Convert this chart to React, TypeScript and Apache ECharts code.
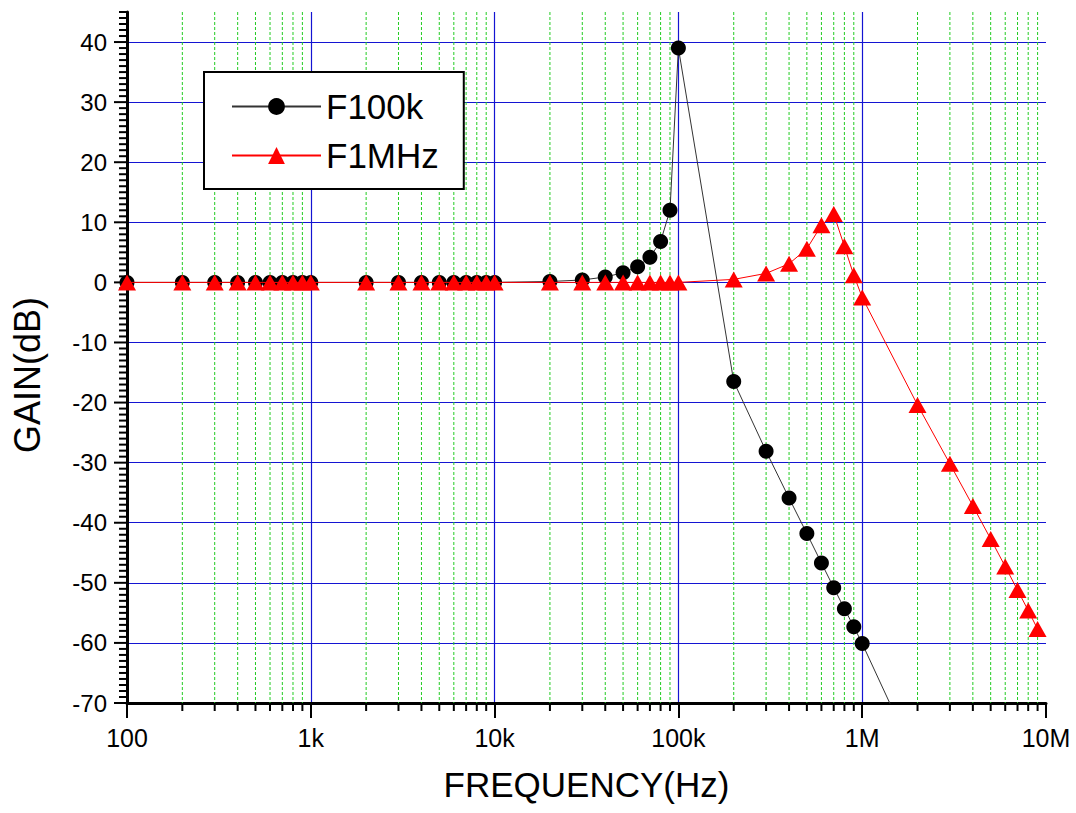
import React, { useEffect, useRef } from "react";
import * as echarts from "echarts";

const FONT = "'Liberation Sans', Arial, sans-serif";

// Frequencies (Hz) and gains (dB)
const freqsF100k = [
  100, 200, 300, 400, 500, 600, 700, 800, 900, 1000,
  2000, 3000, 4000, 5000, 6000, 7000, 8000, 9000, 10000,
  20000, 30000, 40000, 50000, 60000, 70000, 80000, 90000, 100000,
  200000, 300000, 400000, 500000, 600000, 700000, 800000, 900000, 1000000,
  2000000,
];
const gainF100k = [
  0, 0, 0, 0, 0, 0, 0, 0, 0, 0,
  0, 0, 0, 0, 0, 0, 0, 0, 0,
  0.15, 0.4, 0.9, 1.6, 2.6, 4.2, 6.8, 12, 39,
  -16.5, -28.1, -35.9, -41.8, -46.7, -50.8, -54.3, -57.3, -60.1,
  -80,
];

const freqsF1MHz = [
  100, 200, 300, 400, 500, 600, 700, 800, 900, 1000,
  2000, 3000, 4000, 5000, 6000, 7000, 8000, 9000, 10000,
  20000, 30000, 40000, 50000, 60000, 70000, 80000, 90000, 100000,
  200000, 300000, 400000, 500000, 600000, 700000, 800000, 900000, 1000000,
  2000000, 3000000, 4000000, 5000000, 6000000, 7000000, 8000000, 9000000,
];
const gainF1MHz = [
  0, 0, 0, 0, 0, 0, 0, 0, 0, 0,
  0, 0, 0, 0, 0, 0, 0, 0, 0,
  0, 0, 0, 0, 0, 0, 0, 0, 0,
  0.5, 1.5, 3.1, 5.6, 9.5, 11.4, 6.0, 1.2, -2.5,
  -20.4, -30.2, -37.2, -42.7, -47.3, -51.2, -54.6, -57.7,
];

const X_MIN = 100;
const X_MAX = 10000000;
const Y_MIN = -70;
const Y_MAX = 45;

// minor log positions (2..9 x decade)
const minorFreqs: number[] = [];
for (let d = 100; d < X_MAX; d *= 10) {
  for (let m = 2; m <= 9; m++) minorFreqs.push(m * d);
}
// y tick positions every 1 dB
const yTickValues: number[] = [];
for (let v = Y_MIN; v <= Y_MAX; v++) yTickValues.push(v);

function fmtFreq(v: number): string {
  const r = Math.round(v);
  if (r >= 1e6) return Math.round(r / 1e6) + "M";
  if (r >= 1e3) return Math.round(r / 1e3) + "k";
  return String(r);
}

export default function App() {
  const ref = useRef<HTMLDivElement>(null);

  useEffect(() => {
    if (!ref.current) return;
    const chart = echarts.init(ref.current, undefined, { renderer: "svg" });
    const option: any = {
      animation: false,
      textStyle: { fontFamily: FONT },
      grid: { left: 127, right: 30, top: 12, bottom: 110, containLabel: false },
      legend: {
        data: ["F100k", "F1MHz"],
        orient: "vertical",
        left: 204,
        top: 72,
        itemWidth: 89,
        itemHeight: 21,
        itemGap: 14,
        padding: [17, 25, 16, 27],
        backgroundColor: "#ffffff",
        borderColor: "#000000",
        borderWidth: 2,
        borderRadius: 0,
        textStyle: { fontSize: 35, color: "#000", fontFamily: FONT },
      },
      xAxis: {
        type: "log",
        logBase: 10,
        min: X_MIN,
        max: X_MAX,
        name: "FREQUENCY(Hz)",
        nameLocation: "middle",
        nameGap: 64,
        nameTextStyle: { fontSize: 35, color: "#000", fontFamily: FONT },
        axisLine: { show: true, onZero: false, lineStyle: { color: "#000", width: 3 } },
        axisTick: { show: true, length: 15, lineStyle: { color: "#000", width: 2 } },
        axisLabel: { fontSize: 25, color: "#000", margin: 22, formatter: fmtFreq, fontFamily: FONT },
        splitLine: {
          show: true,
          showMinLine: false,
          showMaxLine: false,
          lineStyle: { color: "#1414d2", width: 1.2 },
        },
      },
      yAxis: {
        type: "value",
        min: Y_MIN,
        max: Y_MAX,
        interval: 10,
        axisLine: { show: true, lineStyle: { color: "#000", width: 3 } },
        axisTick: { show: false },
        axisLabel: { fontSize: 24, color: "#000", margin: 20, showMaxLabel: false, fontFamily: FONT },
        splitLine: {
          show: true,
          showMinLine: false,
          showMaxLine: false,
          lineStyle: { color: "#1414d2", width: 1.2 },
        },
      },
      graphic: [
        {
          type: "text",
          x: 27,
          y: 375,
          rotation: Math.PI / 2,
          style: {
            text: "GAIN(dB)",
            fontSize: 36,
            fill: "#000",
            align: "center",
            verticalAlign: "middle",
            fontFamily: FONT,
          },
        },
      ],
      series: [
        {
          name: "minorGrid",
          type: "custom",
          silent: true,
          clip: false,
          z: 1,
          data: minorFreqs.map((f) => [f, 0]),
          encode: { x: 0, y: 1 },
          renderItem: (params: any, api: any) => {
            const f = api.value(0);
            const top = api.coord([f, Y_MAX]);
            const bot = api.coord([f, Y_MIN]);
            return {
              type: "group",
              children: [
                {
                  type: "line",
                  shape: { x1: top[0], y1: top[1], x2: bot[0], y2: bot[1] },
                  style: { stroke: "#22cc22", lineWidth: 1, lineDash: [3, 2] },
                },
                {
                  type: "line",
                  shape: { x1: bot[0], y1: bot[1], x2: bot[0], y2: bot[1] + 8 },
                  style: { stroke: "#000", lineWidth: 2 },
                },
              ],
            };
          },
        },
        {
          name: "yTicks",
          type: "custom",
          silent: true,
          clip: false,
          z: 3,
          data: yTickValues.map((v) => [X_MIN, v]),
          encode: { x: 0, y: 1 },
          renderItem: (params: any, api: any) => {
            const v = api.value(1);
            const p = api.coord([X_MIN, v]);
            const len = Math.round(v) % 10 === 0 ? 13 : 8;
            return {
              type: "line",
              shape: { x1: p[0] - len, y1: p[1], x2: p[0], y2: p[1] },
              style: { stroke: "#000", lineWidth: 2 },
            };
          },
        },
        {
          name: "F100k",
          type: "line",
          data: freqsF100k.map((f, i) => [f, gainF100k[i]]),
          symbol: "circle",
          symbolSize: 15,
          showAllSymbol: true,
          clip: true,
          z: 4,
          itemStyle: { color: "#000" },
          lineStyle: { color: "#333", width: 1 },
        },
        {
          name: "F1MHz",
          type: "line",
          data: freqsF1MHz.map((f, i) => [f, gainF1MHz[i]]),
          symbol: "triangle",
          symbolSize: [18, 16],
          showAllSymbol: true,
          clip: true,
          z: 5,
          itemStyle: { color: "#ff0000" },
          lineStyle: { color: "#ff0000", width: 1 },
        },
      ],
    };
    chart.setOption(option);
    return () => chart.dispose();
  }, []);

  return (
    <div
      ref={ref}
      style={{ position: "fixed", left: 0, top: 0, width: 1076, height: 813, background: "#fff" }}
    />
  );
}
